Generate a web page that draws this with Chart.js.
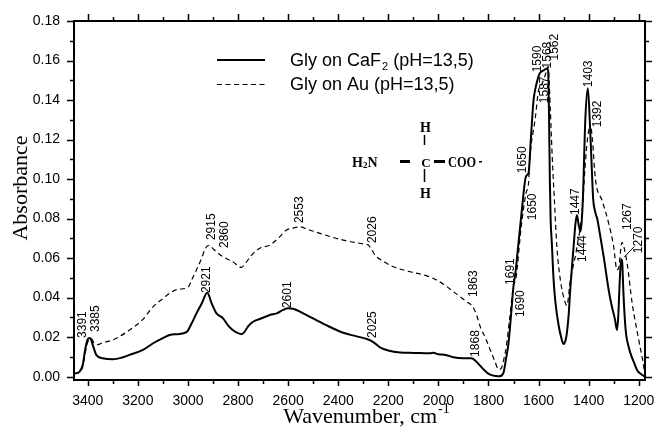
<!DOCTYPE html>
<html>
<head>
<meta charset="utf-8">
<script src="https://cdn.jsdelivr.net/npm/chart.js@4.4.1/dist/chart.umd.min.js"></script>
<style>
  html, body { margin: 0; padding: 0; background: #fff; }
  #wrap { width: 654px; height: 427px; position: relative; }
</style>
</head>
<body>
<div id="wrap"><canvas id="myChart"></canvas></div>
<script>
// Gly on CaF2 (solid line)
const caf2Wavenumber = [
  3455, 3433, 3420, 3410, 3400, 3391, 3380, 3366, 3340, 3300, 3260, 3233, 3180, 3139, 3100, 3073,
  3040, 3006, 2985, 2966, 2945, 2923, 2905, 2886, 2870, 2860, 2840, 2820, 2800, 2786, 2775, 2760,
  2740, 2700, 2673, 2646, 2620, 2600, 2580, 2540, 2513, 2450, 2380, 2330, 2280, 2260, 2233, 2200,
  2153, 2100, 2033, 2020, 2000, 1970, 1940, 1900, 1868, 1850, 1833, 1810, 1793, 1770, 1755, 1740,
  1730, 1720, 1710, 1700, 1691, 1687, 1667, 1653, 1647, 1640, 1630, 1620, 1613, 1596, 1580, 1567,
  1562, 1558, 1555, 1552, 1547, 1540, 1533, 1520, 1508, 1500, 1493, 1487, 1480, 1473, 1460, 1453,
  1447, 1440, 1433, 1428, 1423, 1413, 1403, 1395, 1388, 1382, 1375, 1365, 1360, 1340, 1320, 1307,
  1295, 1287, 1282, 1276, 1270, 1266, 1262, 1256, 1250, 1240, 1233, 1220, 1207, 1190, 1175
];
const caf2Absorbance = [
  0.0015, 0.0025, 0.006, 0.014, 0.019, 0.0196, 0.016, 0.011, 0.0093, 0.0088, 0.0098, 0.011, 0.0135, 0.0169, 0.0195, 0.0211,
  0.0215, 0.0225, 0.027, 0.032, 0.037, 0.0424, 0.037, 0.032, 0.0305, 0.0295, 0.026, 0.0235, 0.022, 0.0215, 0.0225, 0.0255,
  0.0278, 0.0298, 0.0312, 0.032, 0.0338, 0.0346, 0.0344, 0.032, 0.0303, 0.0262, 0.0222, 0.0205, 0.0188, 0.0175, 0.0148, 0.0132,
  0.0122, 0.012, 0.0118, 0.0121, 0.0113, 0.011, 0.0098, 0.0093, 0.0093, 0.0078, 0.0055, 0.0025, 0.001, 0.0003, 0.0002, 0.002,
  0.009, 0.017, 0.031, 0.046, 0.054, 0.059, 0.084, 0.1, 0.102, 0.103, 0.122, 0.14, 0.1455, 0.1534, 0.155, 0.156,
  0.155, 0.13, 0.1, 0.08, 0.0675, 0.049, 0.038, 0.026, 0.019, 0.0165, 0.018, 0.022, 0.031, 0.045, 0.066, 0.077,
  0.0818, 0.077, 0.0735, 0.078, 0.09, 0.131, 0.146, 0.128, 0.107, 0.09, 0.084, 0.0795, 0.076, 0.0607, 0.0438, 0.0354,
  0.029, 0.0236, 0.03, 0.048, 0.0594, 0.058, 0.045, 0.03, 0.021, 0.015, 0.0118, 0.0075, 0.0034, 0.0012, 0.0
];

// Gly on Au (dashed line)
const auWavenumber = [
  3455, 3433, 3420, 3410, 3400, 3390, 3385, 3375, 3360, 3340, 3300, 3233, 3180, 3139, 3100, 3073,
  3040, 3000, 2985, 2966, 2945, 2930, 2915, 2900, 2886, 2860, 2820, 2786, 2770, 2746, 2713, 2673,
  2640, 2606, 2580, 2553, 2520, 2473, 2380, 2300, 2280, 2265, 2253, 2215, 2180, 2113, 2060, 2020,
  1980, 1940, 1887, 1863, 1847, 1833, 1810, 1793, 1775, 1760, 1750, 1740, 1728, 1715, 1700, 1690,
  1670, 1650, 1640, 1635, 1613, 1600, 1587, 1575, 1565, 1562, 1553, 1545, 1537, 1527, 1513, 1495,
  1487, 1473, 1460, 1450, 1444, 1435, 1425, 1415, 1405, 1395, 1390, 1385, 1373, 1346, 1320, 1300,
  1287, 1280, 1273, 1267, 1260, 1246, 1226, 1200, 1180, 1175
];
const auAbsorbance = [
  0.0015, 0.0025, 0.005, 0.012, 0.0175, 0.019, 0.0192, 0.017, 0.0162, 0.0172, 0.0186, 0.0236, 0.029, 0.0354, 0.0395, 0.0422,
  0.0442, 0.0452, 0.049, 0.054, 0.06, 0.065, 0.0665, 0.0648, 0.0632, 0.0607, 0.058, 0.0553, 0.0575, 0.0615, 0.065, 0.0666,
  0.07, 0.0742, 0.0752, 0.0758, 0.0745, 0.0725, 0.0691, 0.0672, 0.0666, 0.064, 0.0615, 0.058, 0.0556, 0.0531, 0.0515, 0.0497,
  0.0468, 0.043, 0.0379, 0.0355, 0.031, 0.0253, 0.019, 0.0135, 0.008, 0.0037, 0.004, 0.008, 0.016, 0.03, 0.046, 0.05,
  0.075, 0.093, 0.098, 0.11, 0.131, 0.145, 0.148, 0.152, 0.156, 0.157, 0.135, 0.11, 0.09, 0.066, 0.049, 0.038,
  0.036, 0.049, 0.057, 0.063, 0.068, 0.074, 0.085, 0.105, 0.12, 0.126, 0.1255, 0.12, 0.1, 0.089, 0.0776, 0.0657,
  0.054, 0.055, 0.063, 0.068, 0.066, 0.057, 0.037, 0.0186, 0.005, 0.0
];

const xTickValues = [3400, 3200, 3000, 2800, 2600, 2400, 2200, 2000, 1800, 1600, 1400, 1200];
const yTickValues = [0, 0.02, 0.04, 0.06, 0.08, 0.1, 0.12, 0.14, 0.16, 0.18];

// peak labels: text, wavenumber and absorbance where the (vertical) text starts
const peakText = ["3391", "3385", "2921", "2915", "2860", "2601", "2553", "2026", "2025", "1863", "1868",
  "1691", "1690", "1650", "1650", "1590", "1587", "1568", "1562", "1447", "1444", "1403", "1392", "1267", "1270"];
const peakWn = [3421, 3369, 2925, 2905, 2853, 2601, 2553, 2261, 2261, 1861, 1853,
  1713, 1673, 1665, 1625, 1605, 1577, 1565, 1537, 1453, 1425, 1401, 1365, 1245, 1201];
const peakAbs = [0.0196, 0.0226, 0.0423, 0.0691, 0.0651, 0.0347, 0.0777, 0.0676, 0.0196, 0.0403, 0.01,
  0.0464, 0.0302, 0.103, 0.0792, 0.154, 0.1384, 0.156, 0.16, 0.0818, 0.058, 0.1465, 0.1262, 0.0742, 0.0625];

const toPoints = (xs, ys) => xs.map((x, i) => ({ x: x, y: ys[i] }));

const sansFont = "'Liberation Sans', Arial, sans-serif";
const serifFont = "'Liberation Serif', 'Times New Roman', serif";
const structFont = (size) => "bold " + size + "px 'Liberation Serif', serif";

// frame, ticks, titles, legend, peak labels and the glycine sketch
const decorPlugin = {
  id: "decor",
  afterDraw: (chart) => {
    const ctx = chart.ctx;
    const { left, right, top, bottom } = chart.chartArea;
    const xs = chart.scales.x;
    const ys = chart.scales.y;
    ctx.save();
    ctx.strokeStyle = "#000";
    ctx.fillStyle = "#000";

    // frame
    ctx.lineWidth = 2;
    ctx.strokeRect(left, top, right - left, bottom - top);

    // ticks, outward on all four sides
    ctx.lineWidth = 1.5;
    ctx.beginPath();
    for (let w = 1200; w <= 3400; w += 100) {
      const px = Math.round(xs.getPixelForValue(w)) + 0.5;
      const major = w % 200 === 0;
      ctx.moveTo(px, bottom);
      ctx.lineTo(px, bottom + (major ? 6 : 4));
      ctx.moveTo(px, top);
      ctx.lineTo(px, top - (major ? 7 : 4));
    }
    for (let i = 0; i <= 18; i++) {
      const py = Math.round(ys.getPixelForValue(i * 0.01)) + 0.5;
      const major = i % 2 === 0;
      ctx.moveTo(left, py);
      ctx.lineTo(left - (major ? 7 : 4), py);
      ctx.moveTo(right, py);
      ctx.lineTo(right + (major ? 7 : 4), py);
    }
    ctx.stroke();

    // axis titles
    ctx.font = "22px " + serifFont;
    ctx.textBaseline = "alphabetic";
    ctx.save();
    ctx.translate(27, 188);
    ctx.rotate(-Math.PI / 2);
    ctx.textAlign = "center";
    ctx.fillText("Absorbance", 0, 0);
    ctx.restore();

    const main = "Wavenumber, cm";
    const mainW = ctx.measureText(main).width;
    ctx.font = "14px " + serifFont;
    const supW = ctx.measureText("-1").width;
    const tx = 366 - (mainW + supW) / 2;
    ctx.font = "22px " + serifFont;
    ctx.textAlign = "left";
    ctx.fillText(main, tx, 423);
    ctx.font = "14px " + serifFont;
    ctx.fillText("-1", tx + mainW + 1, 413);

    // legend
    ctx.lineWidth = 2;
    ctx.beginPath();
    ctx.moveTo(217, 60);
    ctx.lineTo(265, 60);
    ctx.stroke();
    ctx.lineWidth = 1.2;
    ctx.setLineDash([5, 3.5]);
    ctx.beginPath();
    ctx.moveTo(217, 84.5);
    ctx.lineTo(265, 84.5);
    ctx.stroke();
    ctx.setLineDash([]);

    ctx.font = "18px " + sansFont;
    ctx.textBaseline = "middle";
    const l1 = "Gly on CaF";
    ctx.fillText(l1, 290, 61);
    let lx = 290 + ctx.measureText(l1).width;
    ctx.font = "11px " + sansFont;
    ctx.fillText("2", lx + 1, 67);
    lx += ctx.measureText("2").width + 1;
    ctx.font = "18px " + sansFont;
    ctx.fillText(" (pH=13,5)", lx, 61);
    ctx.fillText("Gly on Au (pH=13,5)", 290, 85);

    // glycine sketch
    ctx.textBaseline = "alphabetic";
    ctx.textAlign = "left";
    ctx.font = structFont(14);
    ctx.fillText("H", 352, 167);
    let hx = 352 + ctx.measureText("H").width;
    ctx.font = structFont(9);
    ctx.fillText("2", hx, 168);
    hx += ctx.measureText("2").width;
    ctx.font = structFont(14);
    ctx.fillText("N", hx, 167);
    ctx.textAlign = "center";
    ctx.font = structFont(13);
    ctx.fillText("C", 426, 167);
    ctx.font = structFont(14);
    ctx.fillText("H", 425.5, 132);
    ctx.fillText("H", 425.5, 197.5);
    ctx.textAlign = "left";
    ctx.save();
    ctx.translate(448, 167);
    ctx.scale(0.88, 1);
    ctx.fillText("COO", 0, 0);
    ctx.restore();
    ctx.fillRect(479, 161, 3, 1.5);
    ctx.lineWidth = 3;
    ctx.beginPath();
    ctx.moveTo(400, 161.5); ctx.lineTo(410, 161.5);
    ctx.moveTo(434, 161.5); ctx.lineTo(445, 161.5);
    ctx.stroke();
    ctx.lineWidth = 1.5;
    ctx.beginPath();
    ctx.moveTo(424.5, 135); ctx.lineTo(424.5, 145);
    ctx.moveTo(424.5, 169); ctx.lineTo(424.5, 182);
    ctx.stroke();

    // peak labels
    ctx.font = "12px " + sansFont;
    ctx.textAlign = "left";
    ctx.textBaseline = "middle";
    peakText.forEach((t, i) => {
      ctx.save();
      ctx.translate(xs.getPixelForValue(peakWn[i]), ys.getPixelForValue(peakAbs[i]));
      ctx.rotate(-Math.PI / 2);
      ctx.fillText(t, 0, 0);
      ctx.restore();
    });
    // leader from the 1270 label
    ctx.lineWidth = 1;
    ctx.beginPath();
    ctx.moveTo(xs.getPixelForValue(1218), ys.getPixelForValue(0.0658));
    ctx.lineTo(xs.getPixelForValue(1258), ys.getPixelForValue(0.0605));
    ctx.stroke();

    ctx.restore();
  },
};

const config = {
  type: "line",
  data: {
    datasets: [
      {
        label: "Gly on CaF2 (pH=13,5)",
        data: toPoints(caf2Wavenumber, caf2Absorbance),
        borderColor: "#000",
        borderWidth: 2,
        pointRadius: 0,
        cubicInterpolationMode: "monotone",
        fill: false,
      },
      {
        label: "Gly on Au (pH=13,5)",
        data: toPoints(auWavenumber, auAbsorbance),
        borderColor: "#000",
        borderWidth: 1.2,
        borderDash: [5, 3.5],
        pointRadius: 0,
        cubicInterpolationMode: "monotone",
        fill: false,
      },
    ],
  },
  options: {
    responsive: true,
    maintainAspectRatio: false,
    animation: false,
    devicePixelRatio: 1,
    layout: { padding: { top: 21, right: 9, left: 0, bottom: 0 } },
    plugins: { legend: { display: false }, tooltip: { enabled: false } },
    scales: {
      x: {
        type: "linear",
        reverse: true,
        min: 1175,
        max: 3455,
        grid: { display: false },
        border: { display: false },
        afterBuildTicks: (s) => { s.ticks = xTickValues.map((v) => ({ value: v })); },
        afterFit: (s) => {
          s.height = 47;
          s.paddingLeft = 0;
          s.paddingRight = 0;
        },
        ticks: {
          maxRotation: 0,
          autoSkip: false,
          padding: 5,
          color: "#000",
          font: { family: sansFont, size: 14 },
          callback: (v) => String(v),
        },
      },
      y: {
        min: -0.0017,
        max: 0.18,
        grid: { display: false },
        border: { display: false },
        afterBuildTicks: (s) => { s.ticks = yTickValues.map((v) => ({ value: v })); },
        afterFit: (s) => {
          s.width = 74;
          s.paddingTop = 0;
          s.paddingBottom = 0;
        },
        ticks: {
          padding: 6,
          color: "#000",
          font: { family: sansFont, size: 14 },
          callback: (v) => v.toFixed(2),
        },
      },
    },
  },
  plugins: [decorPlugin],
};

const myChart = new Chart(document.getElementById("myChart"), config);
</script>
</body>
</html>
